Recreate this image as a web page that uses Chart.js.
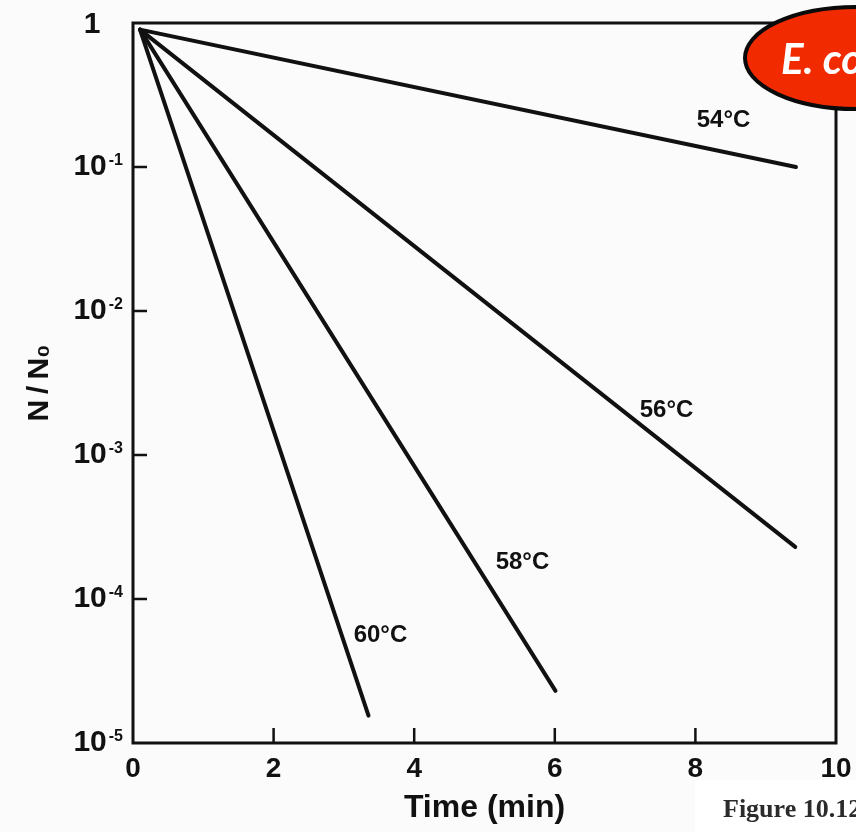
<!DOCTYPE html>
<html lang="en">
<head>
<meta charset="UTF-8">
<title>E. coli survival curves</title>
<script src="https://cdn.jsdelivr.net/npm/chart.js"></script>
<style>
    html, body { margin: 0; padding: 0; background: #fbfbfb; }
    #chartContainer { width: 856px; height: 832px; position: relative; }
</style>
</head>
<body>
<div id="chartContainer"><canvas id="deathChart"></canvas></div>
<script>
// curves, one per temperature
const temperatures = ['54°C', '56°C', '58°C', '60°C'];
// all lines leave from the same point in the top left corner
const startTimes = [0.1, 0.1, 0.1, 0.1];
const startRatios = [0.9, 0.9, 0.9, 0.9];
// end points
const endTimes = [9.43, 9.42, 6.01, 3.35];
const endRatios = [0.1, 2.3e-4, 2.3e-5, 1.55e-5];
// where the temperature labels sit (data units)
const labelTimes = [8.4, 7.59, 5.54, 3.52];
const labelRatios = [0.212, 2.05e-3, 1.8e-4, 5.6e-5];

const xTicks = [0, 2, 4, 6, 8, 10];
const yTicks = [1e-5, 1e-4, 1e-3, 1e-2, 1e-1, 1];
const yTickExponents = ['-5', '-4', '-3', '-2', '-1', ''];

const ink = '#111';
const sans = '"Liberation Sans", Arial, sans-serif';

const datasets = temperatures.map((t, i) => ({
    label: t,
    data: [{x: startTimes[i], y: startRatios[i]}, {x: endTimes[i], y: endRatios[i]}],
    showLine: true,
    pointRadius: 0,
    borderColor: ink,
    borderWidth: 4,
    borderCapStyle: 'round'
}));

// background + white box behind the caption
const paperPlugin = {
    id: 'paper',
    beforeDraw(chart) {
        const ctx = chart.ctx;
        ctx.save();
        ctx.fillStyle = '#fbfbfb';
        ctx.fillRect(0, 0, chart.width, chart.height);
        ctx.fillStyle = '#ffffff';
        ctx.fillRect(695, 780, chart.width - 695, chart.height - 780);
        ctx.restore();
    }
};

// box frame, inward tick marks and the power-of-ten labels
const framePlugin = {
    id: 'frame',
    afterDatasetsDraw(chart) {
        const {ctx, chartArea: a, scales} = chart;
        ctx.save();
        ctx.strokeStyle = ink;
        ctx.lineWidth = 3;
        ctx.strokeRect(a.left, a.top, a.right - a.left, a.bottom - a.top);
        ctx.lineWidth = 2.5;
        ctx.beginPath();
        yTicks.slice(1, -1).forEach(v => {
            const y = scales.y.getPixelForValue(v);
            ctx.moveTo(a.left, y);
            ctx.lineTo(a.left + 14, y);
        });
        xTicks.slice(1, -1).forEach(v => {
            const x = scales.x.getPixelForValue(v);
            ctx.moveTo(x, a.bottom);
            ctx.lineTo(x, a.bottom - 15);
        });
        ctx.stroke();

        // y tick labels: "10" with a raised exponent, plain "1" at the top
        ctx.fillStyle = ink;
        ctx.textBaseline = 'middle';
        const right = a.left - 10;
        yTicks.forEach((v, i) => {
            const y = scales.y.getPixelForValue(v);
            const exp = yTickExponents[i];
            if (exp === '') {
                ctx.font = 'bold 30px ' + sans;
                ctx.textAlign = 'center';
                ctx.fillText('1', 92, y + 2);
                return;
            }
            ctx.font = 'bold 16px ' + sans;
            ctx.textAlign = 'right';
            ctx.fillText(exp, right, y - 6);
            const ew = ctx.measureText(exp).width;
            ctx.font = 'bold 30px ' + sans;
            ctx.fillText('10', right - ew - 2, y);
        });
        ctx.restore();
    }
};

// temperature labels, the E. coli badge and the caption
const notesPlugin = {
    id: 'notes',
    afterDraw(chart) {
        const {ctx, scales} = chart;
        ctx.save();
        ctx.fillStyle = ink;
        ctx.font = 'bold 24px ' + sans;
        ctx.textAlign = 'center';
        ctx.textBaseline = 'middle';
        temperatures.forEach((t, i) => {
            ctx.fillText(t, scales.x.getPixelForValue(labelTimes[i]), scales.y.getPixelForValue(labelRatios[i]));
        });

        ctx.beginPath();
        ctx.ellipse(856, 58, 111, 51, 0, 0, Math.PI * 2);
        ctx.fillStyle = '#f22a00';
        ctx.fill();
        ctx.lineWidth = 4;
        ctx.strokeStyle = '#0a0a0a';
        ctx.stroke();
        ctx.fillStyle = '#ffffff';
        ctx.font = 'italic bold 42px Lato, "Open Sans", sans-serif';
        ctx.textAlign = 'left';
        ctx.textBaseline = 'alphabetic';
        ctx.fillText('E. coli', 781, 74);

        ctx.fillStyle = '#2b2b2b';
        ctx.font = 'bold 26px "Liberation Serif", "Times New Roman", serif';
        ctx.fillText('Figure 10.12', 723, 817);
        ctx.restore();
    }
};

new Chart(document.getElementById('deathChart'), {
    type: 'scatter',
    data: { datasets: datasets },
    options: {
        responsive: true,
        maintainAspectRatio: false,
        animation: false,
        layout: { padding: { top: 23, right: 20, left: 0, bottom: 0 } },
        plugins: { legend: { display: false }, tooltip: { enabled: false } },
        scales: {
            x: {
                type: 'linear',
                min: 0,
                max: 10,
                afterBuildTicks: s => { s.ticks = xTicks.map(v => ({value: v})); },
                afterFit: s => { s.height = 89; s.paddingLeft = 0; s.paddingRight = 0; },
                grid: { display: false, drawTicks: false },
                border: { display: false },
                ticks: {
                    autoSkip: false,
                    maxRotation: 0,
                    padding: 9,
                    color: ink,
                    font: { family: sans, size: 28, weight: 'bold' }
                },
                title: {
                    display: true,
                    text: 'Time (min)',
                    color: ink,
                    padding: { top: 0, bottom: 8 },
                    font: { family: sans, size: 32, weight: 'bold', lineHeight: 1 }
                }
            },
            y: {
                type: 'logarithmic',
                min: 1e-5,
                max: 1,
                afterBuildTicks: s => { s.ticks = yTicks.map(v => ({value: v})); },
                afterFit: s => { s.width = 133; },
                grid: { display: false, drawTicks: false },
                border: { display: false },
                ticks: { display: false },
                title: {
                    display: true,
                    text: 'N\u2009/\u2009N₀',
                    color: ink,
                    padding: { top: 25, bottom: 0 },
                    font: { family: sans, size: 30, weight: 'bold', lineHeight: 1 }
                }
            }
        }
    },
    plugins: [paperPlugin, framePlugin, notesPlugin]
});
</script>
</body>
</html>
